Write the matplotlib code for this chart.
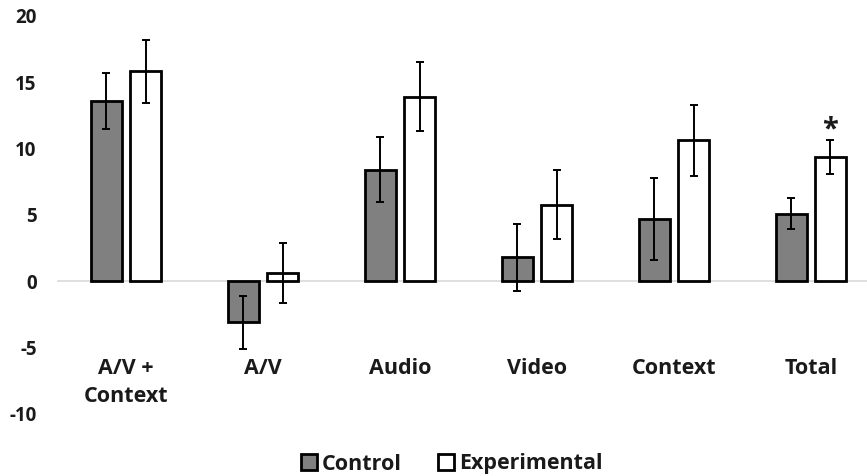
import numpy as np
import matplotlib.pyplot as plt
from matplotlib.patches import Patch
from matplotlib.transforms import blended_transform_factory

plt.rcParams["font.family"] = ["Open Sans", "DejaVu Sans"]
plt.rcParams["font.weight"] = "bold"

categories = ["A/V +\nContext", "A/V", "Audio", "Video", "Context", "Total"]
control_mean = [13.6, -3.1, 8.4, 1.8, 4.7, 5.1]
control_err = [2.1, 2.0, 2.45, 2.5, 3.1, 1.15]
exper_mean = [15.8, 0.6, 13.9, 5.75, 10.6, 9.35]
exper_err = [2.35, 2.25, 2.6, 2.6, 2.7, 1.3]
significant = [False, False, False, False, False, True]
yticks = [-10, -5, 0, 5, 10, 15, 20]

x = np.arange(len(categories))
width = 0.23
offset = 0.143
text_color = "#1a1a1a"

fig = plt.figure(figsize=(8.67, 4.76), dpi=100)
ax = fig.add_axes([0.0663, 0.1303, 0.948, 0.8367])

ax.axhline(0, color="#d9d9d9", linewidth=1.2, zorder=1)

err_kw = dict(ecolor="black", elinewidth=1.4, capsize=3.2, capthick=1.4)
ax.bar(x - offset, control_mean, width, yerr=control_err, color="#808080",
       edgecolor="black", linewidth=2.0, error_kw=err_kw, zorder=2,
       label="Control")
ax.bar(x + offset, exper_mean, width, yerr=exper_err, color="white",
       edgecolor="black", linewidth=2.0, error_kw=err_kw, zorder=2,
       label="Experimental")

# significance marker above the experimental bar
for xi, m, e, s in zip(x, exper_mean, exper_err, significant):
    if s:
        ax.text(xi + offset, m + e - 0.35, "*", ha="center", va="bottom",
                fontsize=21, fontweight="bold", color=text_color)

ax.set_xlim(-0.5, 5.5)
ax.set_ylim(-10, 20)
ax.set_yticks(yticks)
ax.set_yticklabels([str(t) for t in yticks], fontsize=13.5, color=text_color)
ax.tick_params(axis="y", length=0, pad=15)
ax.set_xticks([])
for side in ["top", "right", "bottom", "left"]:
    ax.spines[side].set_visible(False)

# category labels sit just under the -5 level
trans = blended_transform_factory(ax.transData, ax.transData)
for xi, cat in zip(x, categories):
    ax.text(xi, -5.8, cat, transform=trans, ha="center", va="top",
            fontsize=15.5, fontweight="bold", color=text_color, linespacing=1.4)

handles = [Patch(facecolor="#808080", edgecolor="black", linewidth=2.0, label="Control"),
           Patch(facecolor="white", edgecolor="black", linewidth=2.0, label="Experimental")]
fig.legend(handles=handles, loc="center", bbox_to_anchor=(452 / 867, 12 / 476),
           ncol=2, frameon=False, fontsize=15.5, handlelength=0.7, handleheight=0.7,
           handletextpad=0.25, columnspacing=1.7, labelcolor=text_color)

fig.savefig("out.png", dpi=100)
